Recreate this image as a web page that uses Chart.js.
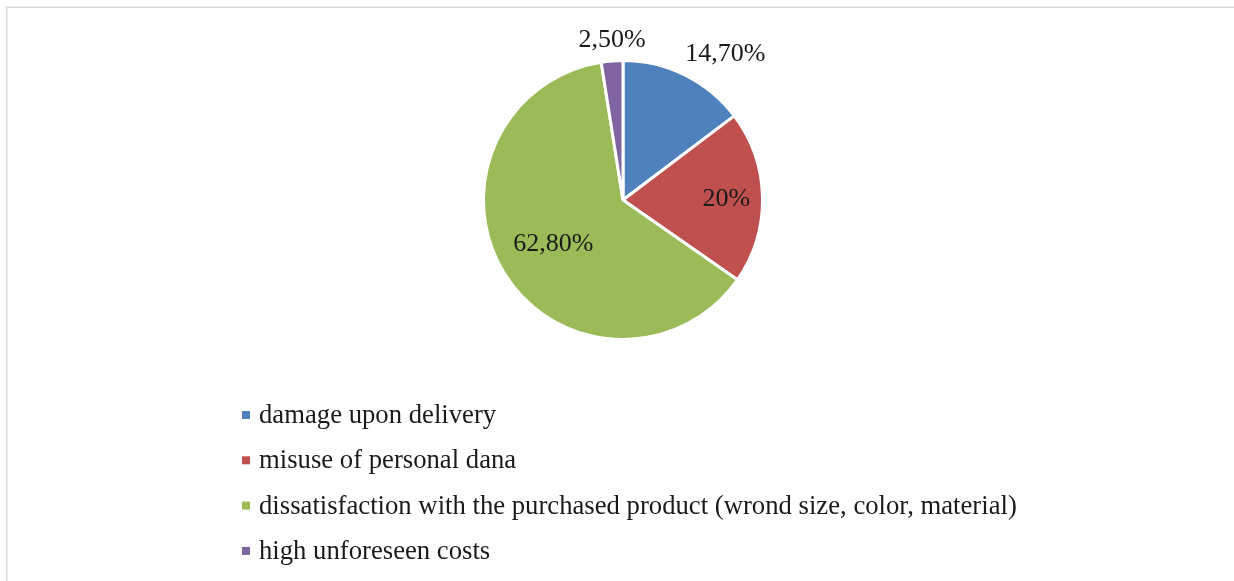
<!DOCTYPE html>
<html>
<head>
<meta charset="utf-8">
<script src="https://cdn.jsdelivr.net/npm/chart.js@4.4.1/dist/chart.umd.min.js"></script>
<style>
    html, body { margin: 0; padding: 0; background: #ffffff; }
    .wrap { position: relative; width: 1234px; height: 581px; }
</style>
</head>
<body>
<div class="wrap"><canvas id="pieChart"></canvas></div>
<script>
// data
const categories = [
    'damage upon delivery',
    'misuse of personal dana',
    'dissatisfaction with the purchased product (wrond size, color, material)',
    'high unforeseen costs'
];
const shares = [14.7, 20, 62.8, 2.5];
const shareLabels = ['14,70%', '20%', '62,80%', '2,50%'];
const sliceColors = ['#4F81BD', '#C0504D', '#9BBB59', '#8064A2'];

const labelFont = '26px "Liberation Serif", "Times New Roman", serif';
const legendFont = '26.7px "Liberation Serif", "Times New Roman", serif';
const textColor = '#1a1a1a';

// frame lines (left + top) like the original screenshot
const framePlugin = {
    id: 'frame',
    beforeDraw(chart) {
        const ctx = chart.ctx;
        ctx.save();
        ctx.strokeStyle = '#d9d9d9';
        ctx.lineWidth = 1.5;
        ctx.beginPath();
        ctx.moveTo(6.75, chart.height);
        ctx.lineTo(6.75, 7.25);
        ctx.lineTo(chart.width, 7.25);
        ctx.stroke();
        ctx.restore();
    }
};

// value labels: big slices inside, small ones just outside the edge
const sliceLabelPlugin = {
    id: 'sliceLabels',
    afterDatasetsDraw(chart) {
        const ctx = chart.ctx;
        const meta = chart.getDatasetMeta(0);
        const insideFactor = [0.74, 0.74, 0.59, 0.74];
        ctx.save();
        ctx.font = labelFont;
        ctx.fillStyle = textColor;
        meta.data.forEach((arc, i) => {
            const p = arc.getProps(['x', 'y', 'startAngle', 'endAngle', 'outerRadius'], true);
            const mid = (p.startAngle + p.endAngle) / 2;
            const cos = Math.cos(mid), sin = Math.sin(mid);
            if (shares[i] < 16) {
                const ex = p.x + cos * p.outerRadius;
                const ey = p.y + sin * p.outerRadius;
                ctx.textAlign = cos > 0.2 ? 'left' : (cos < -0.2 ? 'right' : 'center');
                ctx.textBaseline = 'alphabetic';
                ctx.fillText(shareLabels[i], ex, ey - 14);
            } else {
                const r = p.outerRadius * insideFactor[i];
                ctx.textAlign = 'center';
                ctx.textBaseline = 'middle';
                ctx.fillText(shareLabels[i], p.x + cos * r, p.y + sin * r + 1);
            }
        });
        ctx.restore();
    }
};

// vertical legend under the pie
const legendPlugin = {
    id: 'stackedLegend',
    afterDraw(chart) {
        const ctx = chart.ctx;
        ctx.save();
        ctx.font = legendFont;
        ctx.textBaseline = 'middle';
        ctx.textAlign = 'left';
        categories.forEach((name, i) => {
            const y = 415 + i * 45.3;
            ctx.fillStyle = sliceColors[i];
            ctx.fillRect(242, y - 4, 8, 8);
            ctx.fillStyle = textColor;
            ctx.fillText(name, 259, y + 1);
        });
        ctx.restore();
    }
};

new Chart(document.getElementById('pieChart'), {
    type: 'pie',
    data: {
        labels: categories,
        datasets: [{
            data: shares,
            backgroundColor: sliceColors,
            borderColor: '#ffffff',
            borderWidth: 3
        }]
    },
    options: {
        responsive: true,
        maintainAspectRatio: false,
        animation: false,
        layout: { padding: { top: 59, bottom: 240, left: 12, right: 0 } },
        plugins: {
            legend: { display: false },
            tooltip: { enabled: false }
        }
    },
    plugins: [framePlugin, sliceLabelPlugin, legendPlugin]
});
</script>
</body>
</html>
